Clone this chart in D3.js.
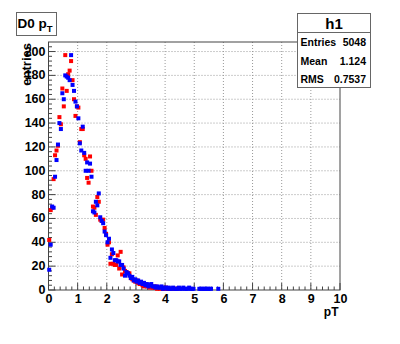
<!DOCTYPE html>
<html><head><meta charset="utf-8">
<script src="https://cdn.jsdelivr.net/npm/d3@7"></script>
<style>body{margin:0;background:#fff}svg{display:block}text{font-family:"Liberation Sans",Arial,sans-serif;font-weight:bold}
.nar{font-family:"Liberation Sans Narrow","Arial Narrow","Liberation Sans",sans-serif}</style>
</head><body>
<script>
const binWidth = 0.05;
const blueValues = [17,38,70,69,95,109,122,140,135,165,160,180,179,178,176,197,172,167,158,154,
144,123,117,137,115,100,107,100,106,95,66,65,74,71,81,61,58,56,49,46,
40,43,27,34,31,25,25,24,24,21,21,18,12,15,14,12,10,11,8,9,
7,8,6,7,5,6,4,5,3,4,5,3,3,2,3,2,2,3,1,2,
2,1,2,1,1,2,1,1,1,2,1,1,2,1,1,1,2,1,1,1,
null,null,null,1,1,1,1,1,1,1,1,1,null,null,null,null,1];
const redValues = [42,67,69,93,113,117,121,145,139,169,154,197,167,181,184,192,176,160,146,154,
153,124,135,135,113,110,94,90,112,100,70,69,63,78,74,59,58,59,52,47,
38,40,22,30,22,21,21,29,18,32,13,19,16,15,14,14,10,9,8,7,
8,6,5,6,4,3,5,3,4,2,3,2,2,3,1,2,1,2,1,1,
2,1,1,null,1,null,1,null,1];
const xTicks = [0,1,2,3,4,5,6,7,8,9,10];
const yTicks = [0,20,40,60,80,100,120,140,160,180,200];
const statsRows = [["Entries","5048"],["Mean","1.124"],["RMS","0.7537"]];

const W=400,H=344;
const svg=d3.select("body").append("svg").attr("width",W).attr("height",H);
const L=48.5,R=340,T=42,B=290;
const x=d3.scaleLinear().domain([0,10]).range([L,R]);
const y=d3.scaleLinear().domain([0,208]).range([B,T]);

// grid
const g=svg.append("g");
g.selectAll(".gx").data(xTicks.slice(1,-1)).join("line")
 .attr("x1",d=>x(d)).attr("x2",d=>x(d)).attr("y1",T).attr("y2",B)
 .attr("stroke","#999").attr("stroke-dasharray","1,2");
g.selectAll(".gy").data(yTicks.slice(1)).join("line")
 .attr("y1",d=>y(d)).attr("y2",d=>y(d)).attr("x1",L).attr("x2",R)
 .attr("stroke","#999").attr("stroke-dasharray","1,2");

// frame
svg.append("rect").attr("x",L).attr("y",T).attr("width",R-L).attr("height",B-T)
 .attr("fill","none").attr("stroke","#444").attr("stroke-width",1);

// ticks (inside)
const xMinor=d3.range(0,50).map(i=>i*0.2).filter(v=>Math.abs(v-Math.round(v))>1e-6);
svg.append("g").selectAll("line").data(xTicks).join("line")
 .attr("x1",d=>x(d)).attr("x2",d=>x(d)).attr("y1",B).attr("y2",B-7).attr("stroke","#444");
svg.append("g").selectAll("line").data(xMinor).join("line")
 .attr("x1",d=>x(d)).attr("x2",d=>x(d)).attr("y1",B).attr("y2",B-3.5).attr("stroke","#444");
const yMinor=d3.range(0,52).map(i=>i*4).filter(v=>v%20!==0);
svg.append("g").selectAll("line").data(yTicks).join("line")
 .attr("y1",d=>y(d)).attr("y2",d=>y(d)).attr("x1",L).attr("x2",L+7).attr("stroke","#444");
svg.append("g").selectAll("line").data(yMinor).join("line")
 .attr("y1",d=>y(d)).attr("y2",d=>y(d)).attr("x1",L).attr("x2",L+3.5).attr("stroke","#444");

// tick labels
svg.append("g").selectAll("text").data(xTicks).join("text").attr("class","nar")
 .attr("x",d=>x(d)+0.5).attr("y",B+13).attr("text-anchor","middle").attr("font-size",12.5).text(d=>d);
svg.append("g").selectAll("text").data(yTicks).join("text").attr("class","nar")
 .attr("x",L-3).attr("y",d=>y(d)+4).attr("text-anchor","end").attr("font-size",12.5).text(d=>d);

// axis titles
svg.append("text").attr("class","nar").attr("transform",`translate(31,${T+1})rotate(-90)`).attr("text-anchor","end")
 .attr("font-size",13).text("entries");
svg.append("text").attr("class","nar").attr("x",R-1.5).attr("y",316).attr("text-anchor","end").attr("font-size",12).text("pT");

// markers
function drawSeries(vals,color){
  const data=vals.map((v,i)=>({p:binWidth*(i+0.5),v})).filter(d=>d.v!==null);
  svg.append("g").selectAll("rect").data(data).join("rect")
   .attr("x",d=>x(d.p)-2).attr("y",d=>y(d.v)-2).attr("width",4).attr("height",4).attr("fill",color);
}
drawSeries(redValues,"#ff0000");
drawSeries(blueValues,"#0000ff");

// title box
svg.append("rect").attr("x",16.5).attr("y",12.5).attr("width",40).attr("height",23)
 .attr("fill","#fff").attr("stroke","#666");
const tt=svg.append("text").attr("x",17.5).attr("y",27.5).attr("font-size",13.5);
tt.append("tspan").text("D0 p");
tt.append("tspan").attr("font-size",9.5).attr("dy",4).text("T");

// stats box
svg.append("rect").attr("x",297.5).attr("y",13.5).attr("width",73).attr("height",74)
 .attr("fill","#fff").attr("stroke","#666");
svg.append("line").attr("x1",297.5).attr("x2",370.5).attr("y1",32.5).attr("y2",32.5).attr("stroke","#666");
svg.append("text").attr("x",334).attr("y",29).attr("text-anchor","middle").attr("font-size",15).text("h1");
statsRows.forEach((r,i)=>{
  svg.append("text").attr("x",300.5).attr("y",46+i*18.7).attr("font-size",10.5).text(r[0]);
  svg.append("text").attr("x",366).attr("y",46+i*18.7).attr("font-size",10.5).attr("text-anchor","end").text(r[1]);
});
</script>
</body></html>
